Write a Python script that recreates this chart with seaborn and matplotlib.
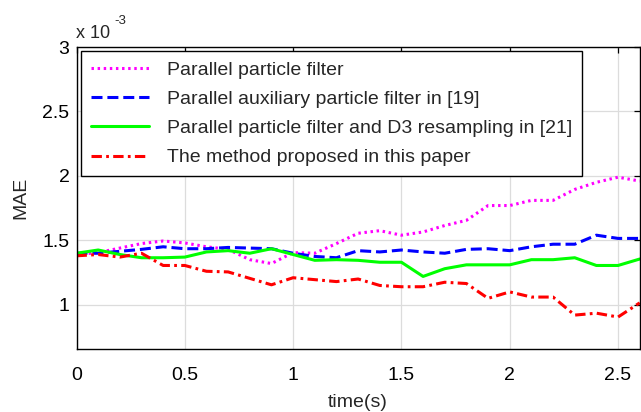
import matplotlib
matplotlib.use("Agg")
import matplotlib.pyplot as plt
import seaborn as sns
import pandas as pd
from matplotlib.ticker import FuncFormatter, MultipleLocator

# ---- data (MAE in units of 1e-3) ----
time_s = [0.0, 0.1, 0.2, 0.3, 0.4, 0.5, 0.6, 0.7, 0.8, 0.9, 1.0, 1.1, 1.2, 1.3,
          1.4, 1.5, 1.6, 1.7, 1.8, 1.9, 2.0, 2.1, 2.2, 2.3, 2.4, 2.5, 2.6]
ppf = [1.39, 1.405, 1.44, 1.475, 1.495, 1.48, 1.45, 1.43, 1.35, 1.32, 1.405, 1.40,
       1.475, 1.555, 1.575, 1.54, 1.565, 1.615, 1.655, 1.77, 1.77, 1.81, 1.81,
       1.895, 1.95, 1.99, 1.96]
apf = [1.40, 1.40, 1.415, 1.43, 1.45, 1.435, 1.435, 1.445, 1.44, 1.435, 1.40, 1.375,
       1.365, 1.42, 1.41, 1.425, 1.41, 1.40, 1.43, 1.435, 1.42, 1.45, 1.47, 1.47,
       1.54, 1.515, 1.515]
d3 = [1.40, 1.425, 1.39, 1.365, 1.365, 1.37, 1.41, 1.42, 1.40, 1.435, 1.39, 1.345,
      1.35, 1.345, 1.33, 1.33, 1.22, 1.28, 1.31, 1.31, 1.31, 1.35, 1.35, 1.365,
      1.305, 1.305, 1.355]
proposed = [1.38, 1.39, 1.37, 1.40, 1.305, 1.305, 1.26, 1.255, 1.205, 1.155, 1.21,
            1.195, 1.18, 1.20, 1.15, 1.14, 1.14, 1.175, 1.165, 1.05, 1.10, 1.06,
            1.06, 0.92, 0.935, 0.905, 1.015]
labels = ["Parallel particle filter",
          "Parallel auxiliary particle filter in [19]",
          "Parallel particle filter and D3 resampling in [21]",
          "The method proposed in this paper"]
scale = 1e-3

sns.set_theme(style="white")
plt.rcParams["font.family"] = ["Liberation Sans", "DejaVu Sans"]

fig = plt.figure(figsize=(6.41, 4.12), dpi=100)
ax = fig.add_axes([76.5 / 641, 1 - 349 / 412, (639.7 - 76.5) / 641, (349 - 47) / 412])

styles = [
    dict(color="#FF00FF", linestyle=(0, (0.8, 1.2))),
    dict(color="#0000FF", linestyle=(0, (3.6, 1.6))),
    dict(color="#00FF00", linestyle="-"),
    dict(color="#FF0000", linestyle=(0, (3.4, 1.4, 0.9, 1.4))),
]
series = [ppf, apf, d3, proposed]
for vals, lab, st in zip(series, labels, styles):
    df = pd.DataFrame({"time": time_s, "MAE": [v * scale for v in vals]})
    sns.lineplot(data=df, x="time", y="MAE", ax=ax, label=lab, linewidth=2.2, **st)

ax.set_xlim(0, 2.6)
ax.set_ylim(0.657 * scale, 3.0 * scale)
ax.xaxis.set_major_locator(MultipleLocator(0.5))
ax.yaxis.set_major_locator(MultipleLocator(0.5 * scale))
ax.xaxis.set_major_formatter(FuncFormatter(lambda v, p: f"{v:g}"))
ax.yaxis.set_major_formatter(FuncFormatter(lambda v, p: f"{round(v / scale, 6):g}"))
ax.grid(True, color="#dcdcdc", linewidth=0.9)
ax.set_axisbelow(True)
for s in ax.spines.values():
    s.set_color("black")
    s.set_linewidth(1.0)
ax.tick_params(direction="in", length=4.5, width=0.9, colors="black",
               top=True, right=True, labelsize=14, pad=5)
ax.tick_params(axis="x", pad=13)
ax.set_xlabel("time(s)", fontsize=14, labelpad=7)
ax.set_ylabel("MAE", fontsize=14, labelpad=9.5)

# exponent marker as in the original figure
ax.annotate("x 10", xy=(0, 1), xycoords="axes fraction", xytext=(0, 3.7),
            textcoords="offset points", fontsize=13, ha="left", va="bottom")
ax.annotate("-3", xy=(0, 1), xycoords="axes fraction", xytext=(27, 14.5),
            textcoords="offset points", fontsize=9.5, ha="left", va="bottom")

leg = ax.legend(loc="upper left", bbox_to_anchor=(0, 1), fontsize=14,
                frameon=True, fancybox=False, framealpha=1, edgecolor="black",
                handlelength=3.0, handletextpad=0.95, labelspacing=0.6,
                borderpad=0.5, borderaxespad=0.22)
leg.get_frame().set_linewidth(1.0)

fig.savefig("out.png", dpi=100)
